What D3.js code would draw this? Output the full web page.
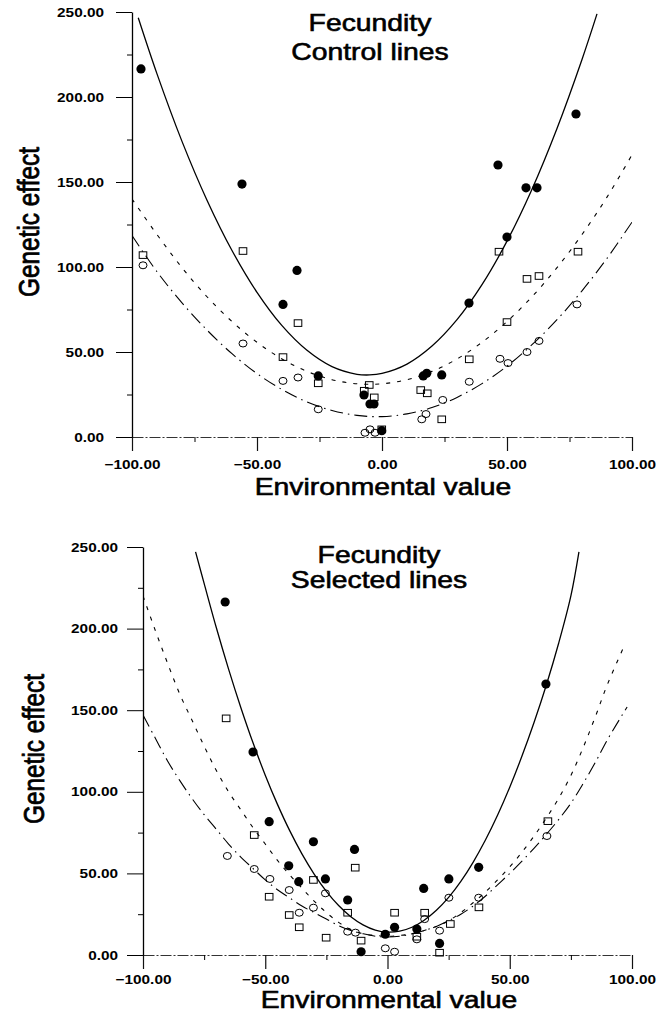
<!DOCTYPE html>
<html>
<head>
<meta charset="utf-8">
<script src="https://cdn.jsdelivr.net/npm/d3@7"></script>
<style>
  body { margin: 0; background: #fff; }
  text { font-family: Arial, "Liberation Sans", sans-serif; fill: #000; }
</style>
</head>
<body>
<svg width="657" height="1014"></svg>
<script>
// ticks
const xTicks = [-100, -50, 0, 50, 100];
const xMinor = [-75, -25, 25, 75];
const yTicks = [0, 50, 100, 150, 200, 250];
const yMinor = [25, 75, 125, 175, 225];

// control lines: observed points [env, effect]
const ctrlFilled = [[-96.4,216.5],[-56,148.8],[-39.6,78],[-34,98],[-25.5,35.9],[-7.2,24.7],[-4.8,19.4],[-3.2,19.4],[-0.1,3.7],[16.5,35.9],[17.9,37.5],[23.9,36.5],[34.8,78.8],[46.4,160],[50,117.6],[57.6,146.6],[62,146.6],[77.6,190]];
const ctrlSquares = [[-95.6,107],[-55.6,109.4],[-39.6,47],[-33.6,67],[-25.5,31.6],[-7.1,27.2],[-5.1,30.6],[-3.1,23.3],[-0.1,4.5],[15.5,27.6],[18.1,25.7],[23.9,10.4],[34.9,45.7],[46.8,109],[50,67.6],[58,93],[62.8,94.7],[78.4,109]];
const ctrlCircles = [[-95.6,101],[-55.6,55],[-39.6,33],[-33.6,35],[-25.5,16.3],[-6.8,2.5],[-4.8,4.5],[-2.8,2.5],[15.9,10.4],[17.6,13.5],[24.3,21.8],[34.9,32.5],[47.2,46],[50.4,43.5],[58,50],[62.8,56.5],[78,78]];
// control lines: fitted curves
const ctrlSolid = [[-97.5,246.6],[-90,213.6],[-80,173.9],[-70,139.3],[-60,109.7],[-50,85.1],[-40,65.5],[-30,51],[-20,41.4],[-10,36.9],[-5,36.5],[0,37.4],[10,42.9],[20,53.5],[30,69],[40,89.6],[50,115.2],[60,145.8],[70,181.5],[80,222.1],[86,248.9]];
const ctrlDotted = [[-100,140],[-90,119.1],[-80,99.6],[-70,82.5],[-60,67.9],[-50,55.7],[-40,45.9],[-30,38.6],[-20,33.7],[-10,31.3],[0,31.3],[10,33.7],[20,38.6],[30,45.9],[40,55.7],[50,67.9],[60,82.5],[70,99.6],[80,119.1],[90,141.1],[100,166]];
const ctrlDashDot = [[-100,118.5],[-90,97.2],[-80,78.9],[-70,62.9],[-60,49],[-50,37.3],[-40,27.9],[-30,20.6],[-20,15.6],[-10,12.7],[0,12],[10,13.6],[20,17.3],[30,23.3],[40,31.4],[50,41.7],[60,54.3],[70,69],[80,86],[90,105.1],[100,126.4]];

// selected lines: observed points
const selFilled = [[-66.4,216.3],[-55,124.4],[-48.4,81.7],[-40.4,54.7],[-36.3,44.9],[-30.3,69.4],[-25.4,46.6],[-16.3,33.7],[-13.5,64.7],[-10.8,2],[-0.9,12.7],[2.9,17],[12,15.9],[14.8,40.8],[21.3,7.1],[25.1,46.6],[37.3,53.7],[64.8,166]];
const selSquares = [[-66,145],[-54.5,73.5],[-48.4,35.7],[-40.2,24.5],[-36.1,17],[-30.3,46],[-25.1,10.6],[-16.3,25.9],[-13.2,53.5],[-10.8,8.8],[2.9,25.9],[12,11.2],[15.2,25.9],[21.3,1.4],[25.7,19],[37.4,29.2],[65.6,82]];
const selCircles = [[-65.5,60.7],[-54.5,52.7],[-48.1,46.6],[-40.2,39.8],[-36.1,25.9],[-30.3,29],[-25.4,37.8],[-16.3,14.3],[-13.1,13.7],[-0.9,4.1],[2.9,2],[12,9.6],[15.2,22],[21.3,14.9],[25.1,35.1],[37.3,35.1],[65.2,72.9]];
// selected lines: fitted curves
const selSolid = [[-78.5,247],[-75,227.7],[-70,200.5],[-65,175.2],[-60,151.7],[-55,130],[-50,110.2],[-45,92.3],[-40,76.2],[-35,62],[-30,49.6],[-25,39],[-20,30.3],[-15,23.5],[-10,18.5],[-5,15.3],[0,14],[5,14.6],[10,17],[15,21.3],[20,27.4],[25,35.3],[30,45.1],[35,56.8],[40,70.3],[45,85.6],[50,102.8],[55,121.9],[60,142.8],[65,165.6],[70,191],[75,220],[78.3,247]];
const selDotted = [[-100,220],[-95,199],[-90,179],[-85,160],[-80,144],[-75,128],[-70,113],[-65,100],[-60,89],[-55,78],[-50,68],[-45,58],[-40,49],[-35,41],[-30,33],[-25,26],[-20,20],[-15,15.5],[-10,13],[-5,12],[0,11.5],[5,12],[10,13],[15,15],[20,17.5],[25,21],[30,26],[35,32],[40,38.5],[45,46],[50,54],[55,63],[60,73],[65,84],[70,96],[75,110],[80,127],[85,146],[90,166],[97,190]];
const selDashDot = [[-100,147],[-95,133],[-90,119],[-85,107],[-80,96],[-75,86],[-70,77],[-65,68],[-60,60],[-55,53],[-50,46],[-45,40],[-40,35],[-35,30],[-30,26],[-25,22],[-20,18],[-15,15],[-10,13],[-5,11.5],[0,11],[5,11.5],[10,13],[15,15],[20,17.5],[25,21],[30,25],[35,30],[40,36],[45,43],[50,50],[55,57.5],[60,65.5],[65,74],[70,83],[75,93],[80,105],[85,118],[90,132],[98,152]];

const svg = d3.select("svg");
const fmt = d3.format(".2f");

const panels = [
  {title: ["Fecundity", "Control lines"], filled: ctrlFilled, squares: ctrlSquares, circles: ctrlCircles,
   solid: ctrlSolid, dotted: ctrlDotted, dashdot: ctrlDashDot,
   xr: [132, 632], yr: [437, 12], titleX: 370, titleY: [31, 60],
   xPad: 9, yPad: 12, xTitleX: 383, xTitleY: 495, yTitleX: 39, yTitleY: 222},
  {title: ["Fecundity", "Selected lines"], filled: selFilled, squares: selSquares, circles: selCircles,
   solid: selSolid, dotted: selDotted, dashdot: selDashDot,
   xr: [143, 632], yr: [955, 547], titleX: 379, titleY: [563, 588],
   xPad: 6, yPad: 9, xTitleX: 389, xTitleY: 1008, yTitleX: 44, yTitleY: 749}
];

panels.forEach((p, i) => {
  const x = d3.scaleLinear().domain([-100, 100]).range(p.xr);
  const y = d3.scaleLinear().domain([0, 250]).range(p.yr);
  const g = svg.append("g");

  // x axis
  const xa = g.append("g").attr("transform", "translate(0," + y(0) + ")")
      .call(d3.axisBottom(x).tickValues(xTicks).tickSize(14).tickSizeOuter(0)
        .tickPadding(p.xPad).tickFormat(fmt));
  xa.select(".domain").attr("stroke", "#333").attr("stroke-width", 1.1)
      .attr("stroke-dasharray", "11,2,2,2");
  xa.selectAll(".tick line").attr("stroke", "#111").attr("stroke-width", 1.2);
  g.append("g").attr("transform", "translate(0," + y(0) + ")")
      .call(d3.axisBottom(x).tickValues(xMinor).tickSize(5).tickSizeOuter(0).tickFormat(""))
      .select(".domain").remove();

  // y axis
  const ya = g.append("g").attr("transform", "translate(" + x(-100) + ",0)")
      .call(d3.axisLeft(y).tickValues(yTicks).tickSize(16).tickSizeOuter(0)
        .tickPadding(p.yPad).tickFormat(fmt));
  ya.select(".domain").attr("stroke-width", 1.3);
  g.append("g").attr("transform", "translate(" + x(-100) + ",0)")
      .call(d3.axisLeft(y).tickValues(yMinor).tickSize(5).tickSizeOuter(0).tickFormat(""))
      .select(".domain").remove();

  g.selectAll(".tick text").attr("font-size", 13).attr("font-weight", "bold")
      .attr("font-family", "Arial, 'Liberation Sans', sans-serif").attr("class", "stretch");

  // curves
  const clipId = "clip" + i;
  g.append("clipPath").attr("id", clipId).append("rect")
      .attr("x", x(-100)).attr("y", y(250))
      .attr("width", x(100) - x(-100)).attr("height", y(0) - y(250));
  const line = d3.line().x(d => x(d[0])).y(d => y(d[1])).curve(d3.curveCatmullRom);
  const curves = g.append("g").attr("clip-path", "url(#" + clipId + ")").attr("fill", "none").attr("stroke", "#000");
  curves.append("path").attr("d", line(p.solid)).attr("stroke-width", 1.3);
  curves.append("path").attr("d", line(p.dotted)).attr("stroke-width", 1.1).attr("stroke-dasharray", "4,7");
  curves.append("path").attr("d", line(p.dashdot)).attr("stroke-width", 1.1).attr("stroke-dasharray", "13,5,1.5,5");

  // markers
  g.append("g").selectAll("circle").data(p.filled).join("circle")
      .attr("cx", d => x(d[0])).attr("cy", d => y(d[1])).attr("r", 4.6).attr("fill", "#000");
  g.append("g").selectAll("rect").data(p.squares).join("rect")
      .attr("x", d => x(d[0]) - 3.8).attr("y", d => y(d[1]) - 3.3)
      .attr("width", 7.6).attr("height", 6.6)
      .attr("fill", "none").attr("stroke", "#000").attr("stroke-width", 1);
  g.append("g").selectAll("ellipse").data(p.circles).join("ellipse")
      .attr("cx", d => x(d[0])).attr("cy", d => y(d[1])).attr("rx", 4).attr("ry", 3.5)
      .attr("fill", "none").attr("stroke", "#000").attr("stroke-width", 1);

  // titles (printed lettering is heavier than plain Arial)
  g.selectAll(".ttl").data(p.title).join("text")
      .attr("class", "stretch")
      .attr("x", p.titleX).attr("y", (d, k) => p.titleY[k])
      .attr("text-anchor", "middle").attr("font-size", 24)
      .attr("stroke", "#000").attr("stroke-width", 0.6).text(d => d);
  g.append("text").attr("class", "stretch")
      .attr("x", p.xTitleX).attr("y", p.xTitleY)
      .attr("text-anchor", "middle").attr("font-size", 24)
      .attr("stroke", "#000").attr("stroke-width", 0.6).text("Environmental value");
  g.append("text")
      .attr("transform", "translate(" + p.yTitleX + "," + p.yTitleY + ") rotate(-90)")
      .attr("text-anchor", "middle").attr("font-size", 29)
      .attr("stroke", "#000").attr("stroke-width", 0.8)
      .attr("textLength", 150).attr("lengthAdjust", "spacingAndGlyphs")
      .text("Genetic effect");
});

// the printed lettering is wider than plain Arial
svg.selectAll("text.stretch").each(function() {
  const w = this.getComputedTextLength();
  this.setAttribute("textLength", w * 1.18);
  this.setAttribute("lengthAdjust", "spacingAndGlyphs");
});
</script>
</body>
</html>
